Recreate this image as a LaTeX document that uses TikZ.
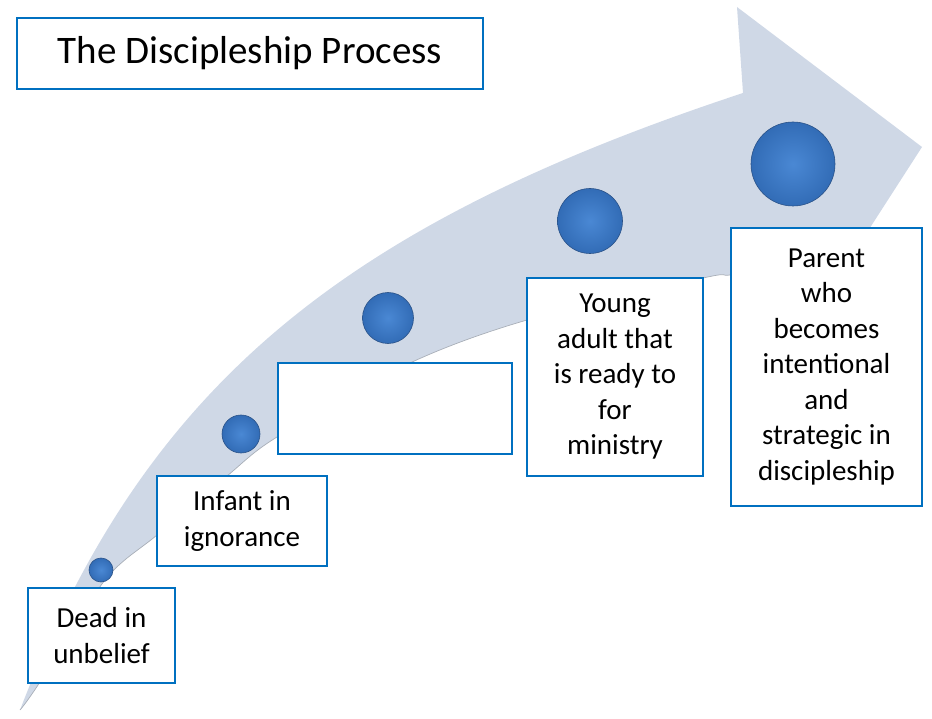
\documentclass[tikz,border=0pt]{standalone}
\usepackage{fontspec}
\setmainfont{Carlito}
\definecolor{arrowfill}{HTML}{CFD8E6}
\definecolor{arrowedge}{HTML}{A9AFB8}
\definecolor{boxblue}{HTML}{0070C0}
\definecolor{balllight}{HTML}{4A88D4}
\definecolor{balldark}{HTML}{326CB6}
\definecolor{balledge}{HTML}{2A5288}
\begin{document}
\begin{tikzpicture}[x=1pt,y=-1pt,
  lbl/.style={draw=boxblue, line width=2.2pt, fill=white, rectangle, inner sep=0pt,
    align=center, font=\fontsize{29}{35.5}\selectfont},
  ball/.style={circle, inner sep=0pt, draw=balledge, line width=0.6pt,
    shading=radial, inner color=balllight, outer color=balldark}]
\useasboundingbox (0,0) rectangle (932,719);
% curved arrow
\fill[arrowfill] (20,710) .. controls (145,385) and (343,225) .. (743,93)
  -- (737,7) -- (922,147) -- (846,265)
  -- plot[smooth] coordinates {(780,268) (730,275) (703,278) (527,320) (410,363) (277,437) (227,476) (157,535) (105,580) (38,685) (20,710)} -- cycle;
\draw[arrowedge, line width=0.7pt] plot[smooth] coordinates {(780,268) (730,275) (703,278) (527,320) (410,363) (277,437) (227,476) (157,535) (105,580) (38,685) (20,710)};
% circles
\node[ball, minimum size=24pt] (c1) at (101,570) {};
\node[ball, minimum size=38pt] (c2) at (241,434) {};
\node[ball, minimum size=51pt] (c3) at (388,318) {};
\node[ball, minimum size=65pt] (c4) at (590,221) {};
\node[ball, minimum size=84pt] (c5) at (793,164) {};
% boxes
\node[lbl, minimum width=147pt, minimum height=95pt] (dead) at (101.5,635.5) {Dead in\\unbelief};
\node[lbl, minimum width=170pt, minimum height=90pt] (infant) at (242,521) {Infant in\\ignorance};
\node[lbl, minimum width=234pt, minimum height=91pt] (empty) at (395,408.5) {};
\node[lbl, minimum width=176pt, minimum height=198pt] (young) at (615,377) {Young\\adult that\\is ready to\\for\\ministry};
\node[lbl, minimum width=191pt, minimum height=278pt] (parent) at (826.5,367) {Parent\\who\\becomes\\intentional\\and\\strategic in\\discipleship};
% title
\node[draw=boxblue, line width=2pt, fill=white, inner sep=0pt, minimum width=466pt, minimum height=71pt,
  font=\fontsize{39}{47}\selectfont] (title) at (250,53.5) {The Discipleship Process};
\end{tikzpicture}
\end{document}
